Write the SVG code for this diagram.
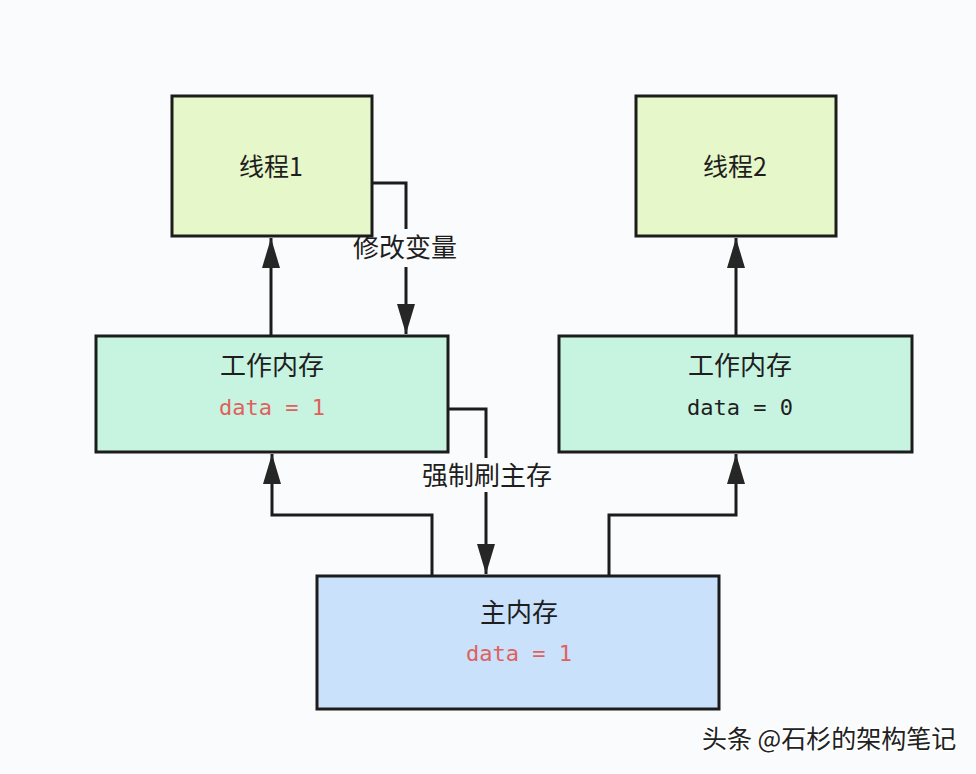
<svg xmlns="http://www.w3.org/2000/svg" width="976" height="774" viewBox="0 0 976 774">
<style>
.box{stroke:#1c1c1c;stroke-width:3}
.thread{fill:#e6f7c9}
.work{fill:#c7f4e1}
.main{fill:#c9e1fa}
.t{font-family:"Noto Sans CJK SC","Noto Sans",sans-serif;font-size:26px;fill:#1e1e1e;text-anchor:middle}
.tn{font-size:25px}
.code{font-family:"DejaVu Sans Mono",monospace;font-size:22px;text-anchor:middle}
.red{fill:#e0605c}
.blk{fill:#1e1e1e}
.conn{fill:none;stroke:#1c1c1c;stroke-width:3}
.lbg{fill:#fafbfc}
</style>
<defs>
<marker id="arr" viewBox="0 0 30 18" refX="30" refY="9" markerWidth="30" markerHeight="18" markerUnits="userSpaceOnUse" orient="auto">
<path d="M0,0 L30,9 L0,18 z" fill="#262626"/>
</marker>
</defs>
<rect width="976" height="774" fill="#fafbfc"/>

<g id="connectors">
<path class="conn" d="M271,336 V238" marker-end="url(#arr)"/>
<path class="conn" d="M372,183 H406 V334" marker-end="url(#arr)"/>
<path class="conn" d="M448,409 H486 V574" marker-end="url(#arr)"/>
<path class="conn" d="M432,576 V515 H272 V454" marker-end="url(#arr)"/>
<path class="conn" d="M609,576 V515 H736 V454" marker-end="url(#arr)"/>
<path class="conn" d="M736,336 V238" marker-end="url(#arr)"/>
<rect class="lbg" x="351" y="229" width="108" height="38"/>
<text class="t" x="405" y="257">修改变量</text>
<rect class="lbg" x="419" y="458" width="136" height="34"/>
<text class="t" x="487" y="485">强制刷主存</text>
</g>

<g id="thread1">
<rect class="box thread" x="172" y="96" width="200" height="140"/>
<text class="t tn" x="271" y="176">线程1</text>
</g>
<g id="thread2">
<rect class="box thread" x="636" y="96" width="200" height="140"/>
<text class="t tn" x="735" y="176">线程2</text>
</g>
<g id="work1">
<rect class="box work" x="96" y="336" width="352" height="116"/>
<text class="t" x="272" y="375">工作内存</text>
<text class="code red" x="272" y="415">data = 1</text>
</g>
<g id="work2">
<rect class="box work" x="559" y="336" width="353" height="116"/>
<text class="t" x="740" y="375">工作内存</text>
<text class="code blk" x="740" y="415">data = 0</text>
</g>
<g id="main">
<rect class="box main" x="317" y="576" width="402" height="133"/>
<text class="t" x="519" y="622">主内存</text>
<text class="code red" x="519" y="661">data = 1</text>
</g>

<text x="702" y="748" style="font-family:'Noto Sans CJK SC',sans-serif;font-size:25px;fill:#222;stroke:#ffffff;stroke-width:3;paint-order:stroke">头条 @石杉的架构笔记</text>
</svg>
